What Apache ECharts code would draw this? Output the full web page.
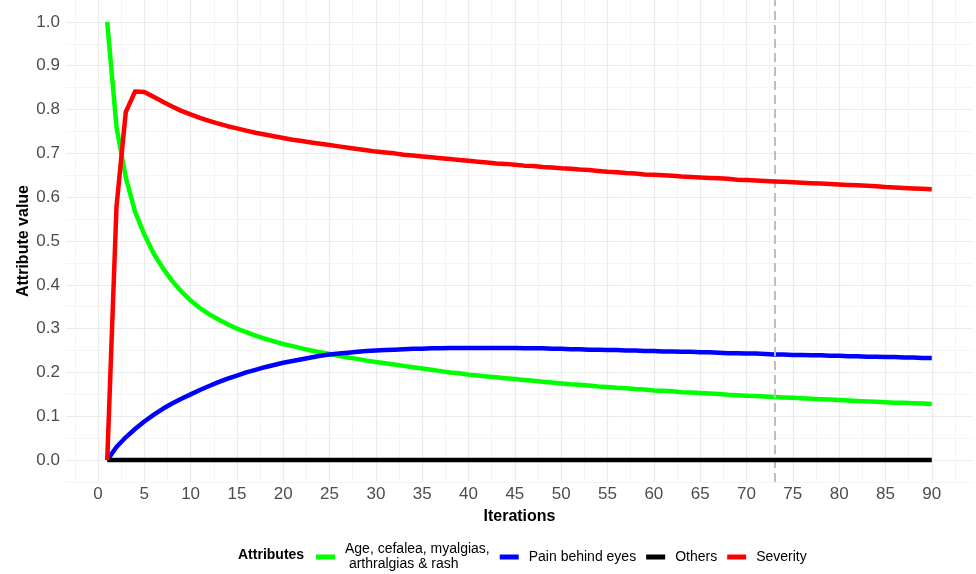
<!DOCTYPE html>
<html>
<head>
<meta charset="utf-8">
<script src="https://cdn.jsdelivr.net/npm/echarts@6/dist/echarts.min.js"></script>
<style>
  html, body { margin: 0; padding: 0; background: #ffffff; }
  #chart { width: 976px; height: 574px; }
</style>
</head>
<body>
<div id="chart"></div>
<script>
// Iteration index (x axis)
const iterations = [
  1, 2, 3, 4, 5, 6, 7, 8, 9, 10, 11, 12, 13, 14, 15, 16, 17, 18, 19, 20,
  21, 22, 23, 24, 25, 26, 27, 28, 29, 30, 31, 32, 33, 34, 35, 36, 37, 38, 39, 40,
  41, 42, 43, 44, 45, 46, 47, 48, 49, 50, 51, 52, 53, 54, 55, 56, 57, 58, 59, 60,
  61, 62, 63, 64, 65, 66, 67, 68, 69, 70, 71, 72, 73, 74, 75, 76, 77, 78, 79, 80,
  81, 82, 83, 84, 85, 86, 87, 88, 89, 90
];

// Age, cefalea, myalgias, arthralgias & rash
const ageCefaleaValues = [
  1.000, 0.760, 0.645, 0.567, 0.515, 0.472, 0.438, 0.409, 0.385, 0.364,
  0.347, 0.333, 0.321, 0.310, 0.300, 0.292, 0.284, 0.277, 0.271, 0.265,
  0.260, 0.255, 0.250, 0.246, 0.242, 0.238, 0.234, 0.231, 0.227, 0.224,
  0.221, 0.218, 0.215, 0.212, 0.209, 0.206, 0.203, 0.200, 0.198, 0.195,
  0.193, 0.191, 0.189, 0.187, 0.185, 0.183, 0.181, 0.179, 0.177, 0.175,
  0.173, 0.172, 0.170, 0.168, 0.167, 0.165, 0.164, 0.162, 0.161, 0.159,
  0.158, 0.157, 0.155, 0.154, 0.153, 0.152, 0.151, 0.149, 0.148, 0.147,
  0.146, 0.145, 0.144, 0.143, 0.142, 0.141, 0.140, 0.139, 0.138, 0.137,
  0.136, 0.135, 0.134, 0.133, 0.132, 0.131, 0.131, 0.130, 0.129, 0.128
];

// Pain behind eyes
const painBehindEyesValues = [
  0.000, 0.030, 0.052, 0.071, 0.088, 0.103, 0.117, 0.129, 0.140, 0.150,
  0.160, 0.169, 0.178, 0.186, 0.193, 0.200, 0.206, 0.212, 0.217, 0.222,
  0.226, 0.230, 0.234, 0.238, 0.241, 0.243, 0.245, 0.247, 0.249, 0.250,
  0.251, 0.252, 0.253, 0.254, 0.254, 0.255, 0.255, 0.256, 0.256, 0.256,
  0.256, 0.256, 0.256, 0.256, 0.256, 0.255, 0.255, 0.255, 0.254, 0.254,
  0.253, 0.253, 0.252, 0.252, 0.251, 0.251, 0.250, 0.250, 0.249, 0.249,
  0.248, 0.248, 0.247, 0.247, 0.246, 0.246, 0.245, 0.244, 0.244, 0.243,
  0.243, 0.242, 0.241, 0.241, 0.240, 0.240, 0.239, 0.239, 0.238, 0.238,
  0.237, 0.237, 0.236, 0.236, 0.235, 0.235, 0.234, 0.234, 0.233, 0.233
];

// Others
const othersValues = [
  0, 0, 0, 0, 0, 0, 0, 0, 0, 0, 0, 0, 0, 0, 0, 0, 0, 0, 0, 0,
  0, 0, 0, 0, 0, 0, 0, 0, 0, 0, 0, 0, 0, 0, 0, 0, 0, 0, 0, 0,
  0, 0, 0, 0, 0, 0, 0, 0, 0, 0, 0, 0, 0, 0, 0, 0, 0, 0, 0, 0,
  0, 0, 0, 0, 0, 0, 0, 0, 0, 0, 0, 0, 0, 0, 0, 0, 0, 0, 0, 0,
  0, 0, 0, 0, 0, 0, 0, 0, 0, 0
];

// Severity
const severityValues = [
  0.000, 0.578, 0.794, 0.841, 0.840, 0.829, 0.818, 0.807, 0.797, 0.789,
  0.781, 0.774, 0.768, 0.762, 0.757, 0.752, 0.747, 0.743, 0.739, 0.735,
  0.731, 0.728, 0.725, 0.722, 0.719, 0.716, 0.713, 0.710, 0.707, 0.704,
  0.702, 0.700, 0.697, 0.695, 0.693, 0.691, 0.689, 0.687, 0.685, 0.683,
  0.681, 0.679, 0.677, 0.676, 0.674, 0.672, 0.671, 0.669, 0.668, 0.666,
  0.665, 0.663, 0.662, 0.660, 0.658, 0.657, 0.655, 0.654, 0.652, 0.651,
  0.650, 0.649, 0.647, 0.646, 0.645, 0.644, 0.643, 0.642, 0.640, 0.639,
  0.638, 0.637, 0.636, 0.635, 0.634, 0.633, 0.632, 0.631, 0.630, 0.629,
  0.628, 0.627, 0.626, 0.625, 0.623, 0.622, 0.621, 0.620, 0.619, 0.618
];

// Iteration marked with the dashed reference line
const markedIteration = 73;

// Tick positions
const xMajorTicks = [0, 5, 10, 15, 20, 25, 30, 35, 40, 45, 50, 55, 60, 65, 70, 75, 80, 85, 90];
const xMinorTicks = [-2.5, 2.5, 7.5, 12.5, 17.5, 22.5, 27.5, 32.5, 37.5, 42.5, 47.5, 52.5, 57.5,
                     62.5, 67.5, 72.5, 77.5, 82.5, 87.5, 92.5];
const yMajorTicks = [0, 0.1, 0.2, 0.3, 0.4, 0.5, 0.6, 0.7, 0.8, 0.9, 1.0];
const yMinorTicks = [-0.05, 0.05, 0.15, 0.25, 0.35, 0.45, 0.55, 0.65, 0.75, 0.85, 0.95];

const seriesNames = [
  'Age, cefalea, myalgias, arthralgias & rash',
  'Pain behind eyes',
  'Others',
  'Severity'
];
const legendLabels = {
  'Age, cefalea, myalgias, arthralgias & rash': 'Age, cefalea, myalgias,\n arthralgias & rash'
};
const seriesColors = ['#00ff00', '#0000ff', '#000000', '#ff0000'];
const seriesValues = [ageCefaleaValues, painBehindEyesValues, othersValues, severityValues];

const FONT = '"Liberation Sans", Arial, Helvetica, sans-serif';
const X_RANGE = [-3.45, 94.45];
const Y_RANGE = [-0.05, 1.05];

const chart = echarts.init(document.getElementById('chart'), null, { renderer: 'canvas' });

function makeSeries(idx) {
  return {
    name: seriesNames[idx],
    type: 'line',
    xAxisIndex: 0,
    yAxisIndex: 0,
    data: iterations.map((it, i) => [it, seriesValues[idx][i]]),
    showSymbol: false,
    symbol: 'none',
    color: seriesColors[idx],
    lineStyle: { color: seriesColors[idx], width: 4.5, join: 'round', cap: 'butt' },
    z: 3 + idx,
    silent: true
  };
}

const series = seriesNames.map((_, i) => makeSeries(i));
// dashed vertical reference line, drawn above the curves
series[3].markLine = {
  silent: true,
  symbol: ['none', 'none'],
  label: { show: false },
  lineStyle: { color: '#bebebe', type: [9, 5], width: 2 },
  data: [{ xAxis: markedIteration }]
};

const option = {
  animation: false,
  backgroundColor: '#ffffff',
  textStyle: { fontFamily: FONT },
  title: {
    text: 'Attributes',
    left: 238,
    top: 548,
    padding: 0,
    textStyle: { fontFamily: FONT, fontSize: 14, fontWeight: 'bold', color: '#000000' }
  },
  legend: {
    data: seriesNames,
    left: 316,
    top: 542,
    padding: 0,
    itemGap: 10,
    itemWidth: 19,
    itemHeight: 5,
    icon: 'rect',
    formatter: (name) => legendLabels[name] || name,
    textStyle: { fontFamily: FONT, fontSize: 14, color: '#000000', lineHeight: 15, padding: [0, 0, 0, 5] },
    selectedMode: false
  },
  grid: { left: 66, right: 3, top: -3, bottom: 92, containLabel: false },
  xAxis: [
    {
      type: 'value',
      min: X_RANGE[0],
      max: X_RANGE[1],
      axisLine: { show: false },
      axisTick: { show: false, customValues: xMajorTicks },
      axisLabel: { customValues: xMajorTicks, color: '#4d4d4d', fontSize: 17, fontFamily: FONT, margin: 4 },
      splitLine: { show: true, lineStyle: { color: '#ebebeb', width: 1.2 } },
      name: 'Iterations',
      nameLocation: 'middle',
      nameGap: 27,
      nameMoveOverlap: false,
      nameTextStyle: { fontFamily: FONT, fontSize: 16, fontWeight: 'bold', color: '#000000' }
    },
    {
      type: 'value',
      min: X_RANGE[0],
      max: X_RANGE[1],
      axisLine: { show: false },
      axisTick: { show: false, customValues: xMinorTicks },
      axisLabel: { show: false, customValues: xMinorTicks },
      splitLine: { show: true, lineStyle: { color: '#f2f2f2', width: 0.8 } }
    }
  ],
  yAxis: [
    {
      type: 'value',
      min: Y_RANGE[0],
      max: Y_RANGE[1],
      axisLine: { show: false },
      axisTick: { show: false, customValues: yMajorTicks },
      axisLabel: {
        customValues: yMajorTicks, color: '#4d4d4d', fontSize: 17, fontFamily: FONT, margin: 6,
        formatter: (v) => v.toFixed(1)
      },
      splitLine: { show: true, lineStyle: { color: '#ebebeb', width: 1.2 } },
      name: 'Attribute value',
      nameLocation: 'middle',
      nameGap: 34,
      nameMoveOverlap: false,
      nameTextStyle: { fontFamily: FONT, fontSize: 16, fontWeight: 'bold', color: '#000000' }
    },
    {
      type: 'value',
      min: Y_RANGE[0],
      max: Y_RANGE[1],
      axisLine: { show: false },
      axisTick: { show: false, customValues: yMinorTicks },
      axisLabel: { show: false, customValues: yMinorTicks },
      splitLine: { show: true, lineStyle: { color: '#f2f2f2', width: 0.8 } }
    }
  ],
  series: series
};

chart.setOption(option);
</script>
</body>
</html>
